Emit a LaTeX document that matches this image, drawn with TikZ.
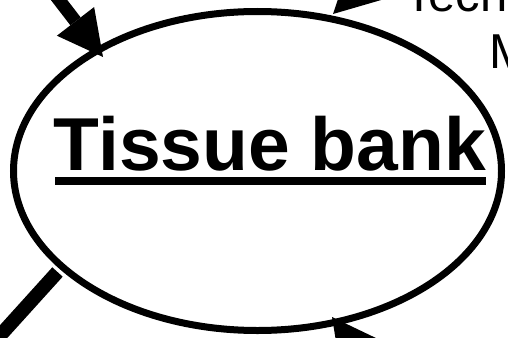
\documentclass[tikz,border=0pt]{standalone}
\usepackage{fontspec}
\setmainfont{Liberation Sans}
\usetikzlibrary{shapes.geometric,arrows.meta}
\tikzset{
  ring/.style={draw=black, ellipse, line width=7pt, inner sep=0pt, minimum width=488pt, minimum height=319pt},
  fatarrow/.style={line width=13pt, -{Triangle[length=45pt,width=47pt,line width=0pt]}},
  fatline/.style={line width=14pt},
  label/.style={inner sep=0pt, anchor=base west}
}
\begin{document}
\begin{tikzpicture}[x=1pt,y=-1pt]
\useasboundingbox (0,0) rectangle (508,337);
\fill[white] (0,0) rectangle (508,337);
\clip (0,0) rectangle (508,337);
% ellipse
\node[ring] (tb) at (257.5,171) {};
% title
\node[label, font=\bfseries\fontsize{75}{90}\selectfont] (title) at (53.5,170) {Tissue bank};
\draw[line width=8pt] (55,181) -- (486,181);
% top-right text
\node[label, font=\fontsize{49}{56}\selectfont] (tech) at (404,12) {Tech};
\node[label, font=\fontsize{49}{56}\selectfont] (m) at (489.5,68) {M};
% arrow ends
\coordinate (a1s) at (40.7,-23.8);
\coordinate (a1e) at (103,57);
\coordinate (a2s) at (405,-55);
\coordinate (a2e) at (333,14);
\coordinate (a4s) at (392,397);
\coordinate (a4e) at (332,317);
\coordinate (l3s) at (57.5,272);
\coordinate (l3e) at (-23,361);
\draw[fatarrow] (a1s) -- (a1e);
\draw[fatarrow] (a2s) -- (a2e);
\draw[fatarrow] (a4s) -- (a4e);
\draw[fatline] (l3s) -- (l3e);
\end{tikzpicture}
\end{document}
